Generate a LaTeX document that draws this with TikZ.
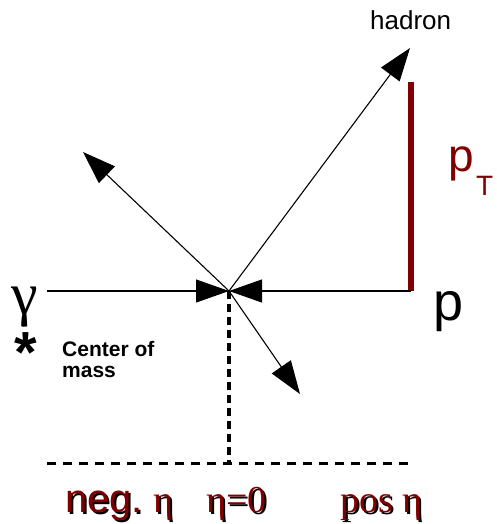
\documentclass[tikz,border=0pt]{standalone}
\usepackage{fontspec}
\setmainfont{Liberation Serif}
\setsansfont{Liberation Sans}
\newfontfamily\arialf{Liberation Sans}
\newfontfamily\timesf{Liberation Serif}
\usetikzlibrary{arrows.meta}
\definecolor{darkred}{RGB}{128,0,0}
\newcommand{\shadowed}[1]{\makebox[0pt][l]{\hspace{2pt}\raisebox{-2pt}{\color{black}#1}}{\color{darkred}#1}}
\tikzset{
  track/.style={line width=1.1pt, -{Triangle[length=33pt,width=23pt]}},
  lbl/.style={inner sep=0pt, anchor=base west},
  dashline/.style={line width=3pt, dash pattern=on 9pt off 7pt},
  dotline/.style={line width=3.5pt, dash pattern=on 8pt off 5pt},
}
\begin{document}
\begin{tikzpicture}[x=1pt,y=-1pt]
\useasboundingbox (0,0) rectangle (496,524);
% coordinates
\coordinate (c) at (229,291);
\coordinate (gstart) at (47,291);
\coordinate (pstart) at (411,291);
\coordinate (ptop) at (411,82);
\coordinate (had) at (410,48);
\coordinate (ul) at (83,152);
\coordinate (lr) at (300,394);
\coordinate (dbot) at (229,463);
\coordinate (dl) at (47,463);
\coordinate (dr) at (411,463);
% dashed lines
\draw[dotline] (c) -- (dbot);
\draw[dashline] (dl) -- (dr);
% red pT bar
\draw[darkred, line width=6pt] (ptop) -- (pstart);
% tracks
\draw[track] (gstart) -- (c);
\draw[track] (pstart) -- (c);
\draw[track] (c) -- (had);
\draw[track] (c) -- (ul);
\draw[track] (c) -- (lr);
% labels
\node[lbl, font=\arialf\fontsize{26}{30}\selectfont] (hadron) at (370,30) {hadron};
\node[lbl, text=darkred, font=\arialf\fontsize{46}{50}\selectfont] (pT) at (448,171) {p};
\node[lbl, text=darkred, font=\arialf\fontsize{28}{30}\selectfont] (pTsub) at (476,195) {T};
\node[lbl, font=\arialf\fontsize{54}{60}\selectfont] (p) at (433,320) {p};
\node[lbl, font=\timesf\fontsize{60}{60}\selectfont] (gamma) at (11,314) {γ};
\node[lbl, font=\arialf\bfseries\fontsize{58}{60}\selectfont] (star) at (14,372) {*};
\node[lbl, font=\arialf\bfseries\fontsize{21}{24}\selectfont] (com1) at (62,356) {Center of};
\node[lbl, font=\arialf\bfseries\fontsize{21}{24}\selectfont] (com2) at (62,377) {mass};
% bottom labels with shadow
\node[lbl, font=\arialf\fontsize{40}{44}\selectfont] (neg) at (65,512) {\shadowed{neg.}};
\node[lbl, font=\timesf\fontsize{38}{44}\selectfont] (eta1) at (153,512) {\shadowed{η}};
\node[lbl, font=\timesf\fontsize{38}{44}\selectfont] (eta0) at (206,512) {\shadowed{η=0}};
\node[lbl, font=\timesf\fontsize{38}{44}\selectfont] (pos) at (340,512) {\shadowed{pos η}};
\end{tikzpicture}
\end{document}
